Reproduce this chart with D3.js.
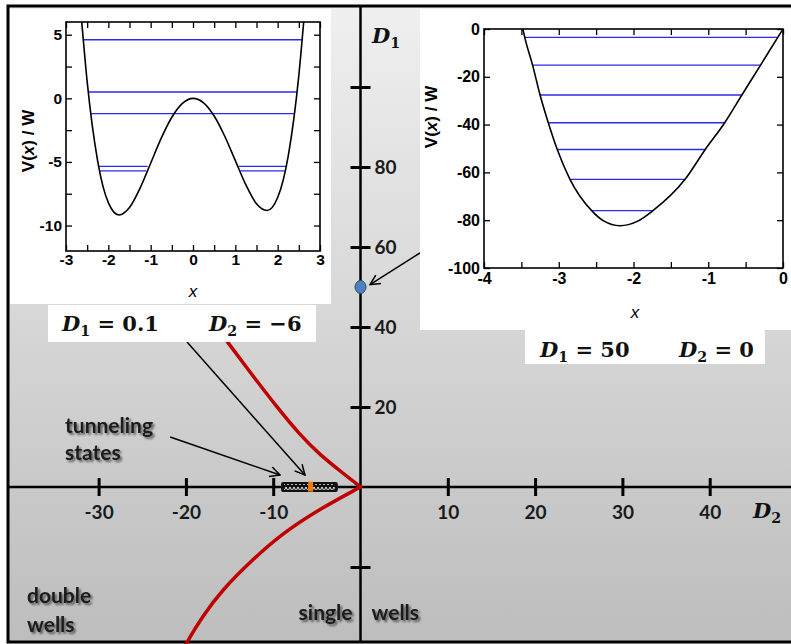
<!DOCTYPE html>
<html><head><meta charset="utf-8">
<script src="https://cdn.jsdelivr.net/npm/d3@7"></script>
<style>body{margin:0;background:#fff}svg{display:block}</style>
</head><body><svg id="c" width="791" height="644"></svg>
<script>
// ---------- data ----------
const mainXTicks = [-30, -20, -10, 10, 20, 30, 40];
const mainYTicks = [-20, 20, 40, 60, 80, 100];
const mainYLabels = [20, 40, 60, 80];
// boundary curve (red), upper and lower branches
const upperD2 = [0, -2.0, -4.64, -6.93, -9.56, -12.31, -15.29, -17.35];
const upperD1 = [0, 3.43, 8.03, 13.03, 19.93, 27.73, 36.38, 42.5];
const lowerD2 = [0, -4.87, -8.88, -12.43, -15.86, -18.16, -19.88, -20.4];
const lowerD1 = [0, -5.75, -11.5, -18.25, -25.75, -32.5, -38.75, -41];
const tunnelD2 = [-9.1, -2.6];
const markerD2 = -6, markerD1 = 0.1;
const dotD2 = 0, dotD1 = 50;

// left inset: V(x) for D1=0.1, D2=-6
const leftX = [-2.63, -2.5, -2.25, -2, -1.75, -1.5, -1.25, -1, -0.75, -0.5, -0.25, 0, 0.25, 0.5, 0.75, 1, 1.25, 1.5, 1.75, 2, 2.25, 2.5, 2.63];
const leftV = [6.08, 1.31, -4.97, -8.2, -9.17, -8.59, -7.06, -5.1, -3.13, -1.49, -0.4, 0, -0.35, -1.39, -2.98, -4.9, -6.81, -8.29, -8.82, -7.8, -4.52, 1.81, 6.6];
const leftLevelE = [4.6, 0.5, -1.2, -5.35, -5.35, -5.7, -5.7];
const leftLevelX1 = [-2.59, -2.47, -2.42, -2.24, 1.08, -2.21, 1.12];
const leftLevelX2 = [2.57, 2.45, 2.39, -1.07, 2.21, -1.1, 2.18];
const leftXTicks = [-3, -2.5, -2, -1.5, -1, -0.5, 0, 0.5, 1, 1.5, 2, 2.5, 3];
const leftYTicks = [-10, -7.5, -5, -2.5, 0, 2.5, 5];

// right inset: V(x) for D1=50, D2=0
const rightX = [-3.48, -3.455, -3.35, -3.25, -3.14, -3.02, -2.85, -2.56, -2.4, -2.18, -1.95, -1.74, -1.31, -1.04, -0.78, -0.55, -0.3, -0.07, 0];
const rightV = [0, -3.5, -15.1, -27.6, -39.2, -50.4, -62.9, -76, -80.3, -82.3, -80.5, -76, -62.9, -50.4, -39.2, -27.6, -15.1, -3.5, 0];
const rightLevelE = [-3.5, -15.1, -27.6, -39.2, -50.4, -62.9, -76];
const rightLevelX1 = [-3.455, -3.35, -3.25, -3.14, -3.02, -2.85, -2.56];
const rightLevelX2 = [-0.07, -0.3, -0.55, -0.78, -1.04, -1.31, -1.74];
const rightXTicks = [-4, -3.5, -3, -2.5, -2, -1.5, -1, -0.5, 0];
const rightYTicks = [-100, -80, -60, -40, -20, 0];

// ---------- setup ----------
const svg = d3.select("#c");
const defs = svg.append("defs");
const grad = defs.append("linearGradient").attr("id", "bg").attr("x1", 0).attr("y1", 0).attr("x2", 0).attr("y2", 1);
grad.append("stop").attr("offset", "0%").attr("stop-color", "#efefef");
grad.append("stop").attr("offset", "100%").attr("stop-color", "#bdbdbd");

const f = defs.append("filter").attr("id", "sh").attr("x", "-20%").attr("y", "-30%").attr("width", "150%").attr("height", "180%");
f.append("feGaussianBlur").attr("in", "SourceAlpha").attr("stdDeviation", 1.3).attr("result", "b");
f.append("feOffset").attr("in", "b").attr("dx", 2).attr("dy", 2).attr("result", "o");
const ct = f.append("feComponentTransfer").attr("in", "o").attr("result", "o2");
ct.append("feFuncA").attr("type", "linear").attr("slope", 0.55);
const fm = f.append("feMerge");
fm.append("feMergeNode").attr("in", "o2");
fm.append("feMergeNode").attr("in", "SourceGraphic");

defs.append("marker").attr("id", "ah").attr("viewBox", "0 0 12 12").attr("refX", 11).attr("refY", 6)
  .attr("markerWidth", 12).attr("markerHeight", 12).attr("markerUnits", "userSpaceOnUse").attr("orient", "auto")
  .append("path").attr("d", "M1,1 L11,6 L1,11").attr("fill", "none").attr("stroke", "#000").attr("stroke-width", 1.5);

const pat = defs.append("pattern").attr("id", "zig").attr("patternUnits", "userSpaceOnUse").attr("width", 4).attr("height", 6);
pat.append("rect").attr("width", 4).attr("height", 6).attr("fill", "#111");
pat.append("path").attr("d", "M0,5 L2,1 L4,5").attr("fill", "none").attr("stroke", "#fff").attr("stroke-width", 0.9);

// ---------- main scales ----------
const x = d3.scaleLinear().domain([-40, 50]).range([360.5 - 349.2, 360.5 + 436.5]);
const y = d3.scaleLinear().domain([-38.75, 120.25]).range([642, 6]);

svg.append("rect").attr("x", 8).attr("y", 6).attr("width", 800).attr("height", 636)
  .attr("fill", "url(#bg)").attr("stroke", "#000").attr("stroke-width", 3);

// axis lines
svg.append("line").attr("x1", x(0)).attr("x2", x(0)).attr("y1", 6).attr("y2", 642).attr("stroke", "#000").attr("stroke-width", 2.5);
svg.append("line").attr("x1", 8).attr("x2", 791).attr("y1", y(0)).attr("y2", y(0)).attr("stroke", "#000").attr("stroke-width", 2.5);

const gx = svg.append("g").attr("transform", `translate(0,${y(0)})`)
  .call(d3.axisBottom(x).tickValues(mainXTicks).tickSize(9).tickFormat(d => String(d)));
gx.select(".domain").remove();
gx.selectAll(".tick line").attr("y1", -9).attr("y2", 9).attr("stroke", "#000").attr("stroke-width", 3);
gx.selectAll(".tick text").attr("y", 32).attr("dy", 0).attr("fill", "#1a1a1a")
  .attr("font-family", "Lato").attr("font-size", 19).attr("font-weight", "bold");

const gy = svg.append("g").attr("transform", `translate(${x(0)},0)`)
  .call(d3.axisRight(y).tickValues(mainYTicks).tickSize(10).tickFormat(d => mainYLabels.includes(d) ? String(d) : ""));
gy.select(".domain").remove();
gy.selectAll(".tick line").attr("x1", -10).attr("x2", 10).attr("stroke", "#000").attr("stroke-width", 3);
gy.selectAll(".tick text").attr("x", 14).attr("dy", "0.36em").attr("fill", "#1a1a1a")
  .attr("font-family", "Lato").attr("font-size", 19).attr("font-weight", "bold");

// red boundary
const redLine = d3.line().x(d => x(d[0])).y(d => y(d[1])).curve(d3.curveBasis);
[[upperD2, upperD1], [lowerD2, lowerD1]].forEach(([a, b]) => {
  svg.append("path").attr("d", redLine(a.map((v, i) => [v, b[i]])))
    .attr("fill", "none").attr("stroke", "#c00000").attr("stroke-width", 3.5).attr("stroke-linecap", "round");
});

// arrows (annotation anchors in data coordinates)
const arrows = [
  [[-19.87, 36.25], [-6.36, 3.0]],
  [[-21.8, 12.5], [-9.22, 3.0]],
  [[6.8, 58.5], [1.09, 50.6]]
];
arrows.forEach(([a, b]) => {
  svg.append("line").attr("x1", x(a[0])).attr("y1", y(a[1])).attr("x2", x(b[0])).attr("y2", y(b[1]))
    .attr("stroke", "#000").attr("stroke-width", 1.5).attr("marker-end", "url(#ah)");
});

// tunneling states bar
const bx0 = x(tunnelD2[0]), bx1 = x(tunnelD2[1]);
svg.append("rect").attr("x", bx0).attr("y", y(0) - 5).attr("width", bx1 - bx0).attr("height", 10)
  .attr("rx", 2).attr("fill", "#111");
svg.append("rect").attr("x", bx0 + 3).attr("y", y(0) - 3).attr("width", bx1 - bx0 - 6).attr("height", 6)
  .attr("fill", "url(#zig)");
svg.append("rect").attr("x", x(markerD2)).attr("y", y(markerD1) - 5).attr("width", 5).attr("height", 10)
  .attr("fill", "#f07b0c");

// blue dot
svg.append("ellipse").attr("cx", x(dotD2)).attr("cy", y(dotD1)).attr("rx", 5.5).attr("ry", 6.5)
  .attr("fill", "#4f81bd").attr("stroke", "#2c4d75").attr("stroke-width", 1);

// ---------- insets ----------
const SANS = "Liberation Sans";
function inset(cfg) {
  const g = svg.append("g");
  g.append("rect").attr("x", cfg.box[0]).attr("y", cfg.box[1]).attr("width", cfg.box[2]).attr("height", cfg.box[3]).attr("fill", "#fff");
  const sx = d3.scaleLinear().domain(cfg.xd).range([cfg.l, cfg.r]);
  const sy = d3.scaleLinear().domain(cfg.yd).range([cfg.b, cfg.t]);
  const cid = cfg.id;
  defs.append("clipPath").attr("id", cid).append("rect").attr("x", cfg.l).attr("y", cfg.t).attr("width", cfg.r - cfg.l).attr("height", cfg.b - cfg.t);
  cfg.E.forEach((e, i) => {
    g.append("line").attr("x1", sx(cfg.X1[i])).attr("x2", sx(cfg.X2[i])).attr("y1", sy(e)).attr("y2", sy(e))
      .attr("stroke", "#2a2aee").attr("stroke-width", 1.4);
  });
  const ln = d3.line().x(d => sx(d[0])).y(d => sy(d[1])).curve(d3.curveMonotoneX);
  g.append("path").attr("clip-path", `url(#${cid})`).attr("d", ln(cfg.px.map((v, i) => [v, cfg.pv[i]])))
    .attr("fill", "none").attr("stroke", "#000").attr("stroke-width", 1.6);
  const fmtX = d => Number.isInteger(d) ? String(d) : "";
  const style = a => {
    a.select(".domain").remove();
    a.selectAll(".tick line").attr("stroke", "#000").attr("stroke-width", 1.3);
    a.selectAll(".tick text").attr("fill", "#000").attr("font-family", SANS).attr("font-size", cfg.fs).attr("font-weight", "bold");
  };
  g.append("g").attr("transform", `translate(0,${cfg.b})`).call(d3.axisBottom(sx).tickValues(cfg.xt).tickSize(-6).tickPadding(cfg.xpad).tickFormat(fmtX)).call(style);
  g.append("g").attr("transform", `translate(0,${cfg.t})`).call(d3.axisTop(sx).tickValues(cfg.xt).tickSize(-6).tickFormat("")).call(style);
  g.append("g").attr("transform", `translate(${cfg.l},0)`).call(d3.axisLeft(sy).tickValues(cfg.yt).tickSize(-6).tickPadding(4).tickFormat(cfg.fmtY)).call(style);
  g.append("g").attr("transform", `translate(${cfg.r},0)`).call(d3.axisRight(sy).tickValues(cfg.yt).tickSize(-6).tickFormat("")).call(style);
  g.append("rect").attr("x", cfg.l).attr("y", cfg.t).attr("width", cfg.r - cfg.l).attr("height", cfg.b - cfg.t)
    .attr("fill", "none").attr("stroke", "#000").attr("stroke-width", 1.6);
  const yl = g.append("text").attr("transform", `translate(${cfg.ylab[0]},${cfg.ylab[1]}) rotate(-90)`)
    .attr("text-anchor", "middle").attr("font-family", SANS).attr("font-weight", "bold").attr("font-size", 17).attr("fill", "#000");
  yl.append("tspan").text("V(");
  yl.append("tspan").attr("font-style", "italic").text("x");
  yl.append("tspan").text(") / W");
  g.append("text").attr("x", cfg.xlab[0]).attr("y", cfg.xlab[1]).attr("text-anchor", "middle")
    .attr("font-family", SANS).attr("font-style", "italic").attr("font-size", 17).attr("fill", "#000").text("x");
}

inset({
  id: "cl1", box: [10, 9, 321, 295], l: 66, r: 320, t: 22, b: 251, xd: [-3, 3], yd: [-12, 6],
  px: leftX, pv: leftV, E: leftLevelE, X1: leftLevelX1, X2: leftLevelX2, fs: 15.5,
  xt: leftXTicks, yt: leftYTicks, xpad: 3, fmtY: d => Number.isInteger(d) ? String(d) : "",
  ylab: [34, 141], xlab: [193, 297]
});
inset({
  id: "cl2", box: [420, 9, 380, 321], l: 484, r: 783, t: 29, b: 268, xd: [-4, 0], yd: [-100, 0],
  px: rightX, pv: rightV, E: rightLevelE, X1: rightLevelX1, X2: rightLevelX2, fs: 16,
  xt: rightXTicks, yt: rightYTicks, xpad: 5, fmtY: d => String(d),
  ylab: [437, 117], xlab: [635, 318]
});

// parameter label boxes
function mathLabel(xp, yp, sub, rest, size) {
  const t = svg.append("text").attr("x", xp).attr("y", yp).attr("font-family", "DejaVu Serif")
    .attr("font-weight", "bold").attr("font-size", size).attr("fill", "#111");
  t.append("tspan").attr("font-style", "italic").text("D");
  t.append("tspan").attr("font-size", size * 0.68).attr("dy", size * 0.25).text(sub);
  if (rest) t.append("tspan").attr("dy", -size * 0.25).text(rest);
}
svg.append("rect").attr("x", 48).attr("y", 305).attr("width", 268).attr("height", 37).attr("fill", "#fff");
svg.append("rect").attr("x", 525).attr("y", 330).attr("width", 240).attr("height", 34).attr("fill", "#fff");
mathLabel(62, 331, "1", " = 0.1", 21);
mathLabel(209, 331, "2", " = \u22126", 21);
mathLabel(540, 357, "1", " = 50", 21);
mathLabel(679, 357, "2", " = 0", 21);
mathLabel(372, 43, "1", null, 21);
mathLabel(753, 518, "2", null, 21);

// region labels
function note(xp, yp, s, anchor) {
  svg.append("text").attr("x", xp).attr("y", yp).attr("text-anchor", anchor || "start")
    .attr("font-family", "Lato").attr("font-weight", "bold").attr("font-size", 21).attr("fill", "#1a1a1a")
    .attr("filter", "url(#sh)").text(s);
}
note(65, 433, "tunneling");
note(65, 460, "states");
note(27, 603, "double");
note(27, 632, "wells");
note(x(0) - 8, 620, "single", "end");
note(x(0) + 11, 620, "wells");
</script></body></html>
